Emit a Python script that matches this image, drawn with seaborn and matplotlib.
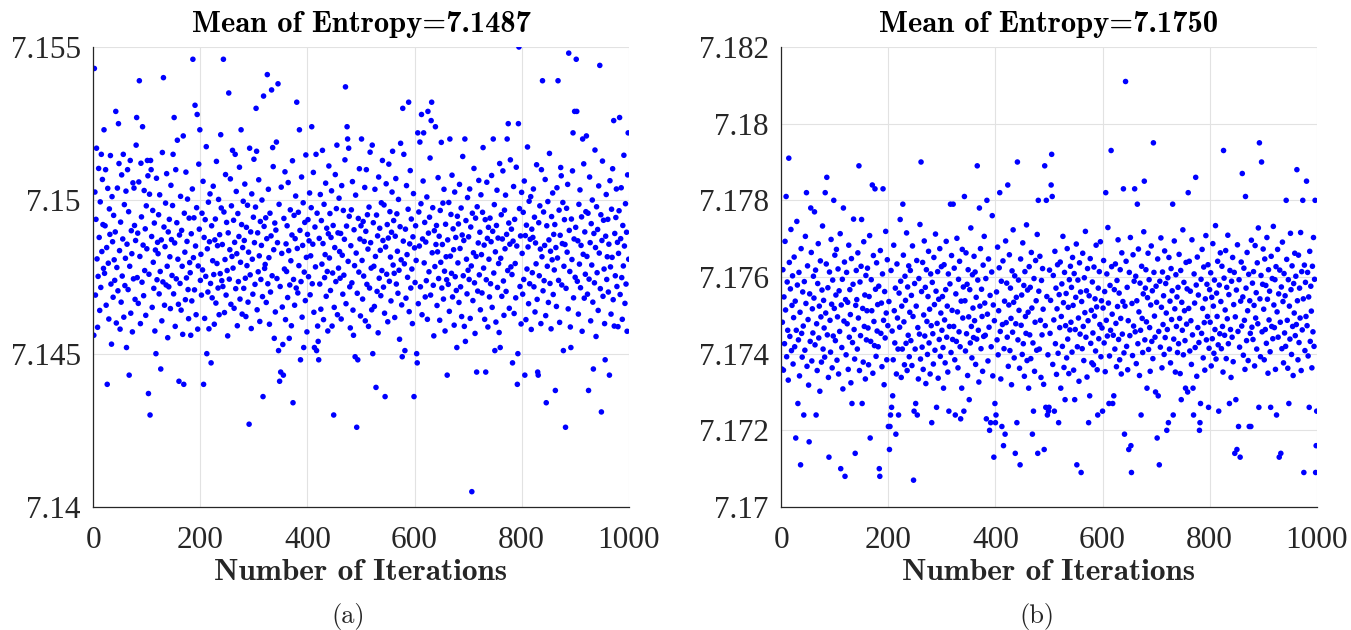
import numpy as np
import pandas as pd
import matplotlib
matplotlib.use("Agg")
import matplotlib.pyplot as plt
import seaborn as sns

# Entropy of each run, iterations 1..1000 (rows of 20 iterations)
left_entropy = [
    7.1456, 7.1543, 7.15027, 7.14691, 7.14938, 7.1517, 7.14809, 7.14586, 7.14752, 7.15104, 7.14879, 7.14641, 7.14995, 7.14716, 7.1515, 7.14833, 7.15068, 7.14921, 7.14778, 7.1523,
    7.14762, 7.14917, 7.1510, 7.14658, 7.14846, 7.1440, 7.15039, 7.14795, 7.14613, 7.14972, 7.14889, 7.15146, 7.14727, 7.14531, 7.15012, 7.14865, 7.14684, 7.14951, 7.14806, 7.14739,
    7.14897, 7.1529, 7.1460, 7.14781, 7.1504, 7.14705, 7.1525, 7.1512, 7.14836, 7.1458, 7.14929, 7.14668, 7.15083, 7.14753, 7.14874, 7.1515, 7.14619, 7.14986, 7.14722, 7.14811,
    7.1503, 7.1452, 7.14857, 7.1510, 7.14709, 7.14963, 7.1443, 7.14785, 7.1513, 7.14632, 7.14901, 7.14826, 7.14571, 7.15057, 7.14744, 7.1504, 7.14918, 7.14677, 7.14869, 7.1518,
    7.1527, 7.14748, 7.14893, 7.14664, 7.1506, 7.1539, 7.14817, 7.14598, 7.15121, 7.14946, 7.14733, 7.1524, 7.14854, 7.14689, 7.15032, 7.14771, 7.14907, 7.14625, 7.14982, 7.14842,
    7.1513, 7.1508, 7.1437, 7.14759, 7.1502, 7.1430, 7.1513, 7.1510, 7.14882, 7.14651, 7.14967, 7.14798, 7.14713, 7.14926, 7.14574, 7.14838, 7.1450, 7.15072, 7.14741, 7.14863,
    7.14826, 7.14953, 7.14695, 7.15018, 7.14768, 7.1445, 7.14871, 7.14607, 7.15156, 7.14734, 7.1540, 7.14913, 7.14658, 7.14849, 7.14991, 7.14724, 7.15087, 7.14785, 7.14552, 7.14897,
    7.14718, 7.14938, 7.14816, 7.14647, 7.15049, 7.14872, 7.14755, 7.14983, 7.1515, 7.14695, 7.1527, 7.14861, 7.14589, 7.1510, 7.14744, 7.14927, 7.15196, 7.14808, 7.14661, 7.1441,
    7.14887, 7.14729, 7.15013, 7.14642, 7.14902, 7.14785, 7.14563, 7.1521, 7.1440, 7.14958, 7.14831, 7.14676, 7.15092, 7.14747, 7.14866, 7.15004, 7.14709, 7.14614, 7.14942, 7.14797,
    7.14764, 7.1456, 7.14891, 7.14672, 7.15037, 7.1546, 7.14813, 7.14943, 7.14708, 7.1531, 7.14851, 7.14627, 7.14976, 7.1528, 7.1458, 7.14786, 7.15118, 7.14906, 7.1523, 7.14739,
    7.14824, 7.14691, 7.14958, 7.14773, 7.15062, 7.1440, 7.14879, 7.14615, 7.14937, 7.14752, 7.15175, 7.1450, 7.14842, 7.14701, 7.14994, 7.14581, 7.14865, 7.15021, 7.14729, 7.1447,
    7.14917, 7.14682, 7.14803, 7.15046, 7.14758, 7.14596, 7.14871, 7.14939, 7.14665, 7.15127, 7.14794, 7.14852, 7.14714, 7.15003, 7.14627, 7.14888, 7.14761, 7.15214, 7.14975, 7.14738,
    7.14856, 7.14719, 7.1546, 7.14962, 7.14634, 7.14807, 7.15084, 7.14691, 7.14928, 7.14771, 7.14558, 7.14894, 7.1535, 7.14743, 7.14839, 7.1507, 7.14661, 7.14982, 7.14817, 7.15163,
    7.14779, 7.14935, 7.14648, 7.14863, 7.1515, 7.14712, 7.15029, 7.14826, 7.14591, 7.14957, 7.14735, 7.14882, 7.15108, 7.14678, 7.14798, 7.1523, 7.14921, 7.14629, 7.14846, 7.14997,
    7.14713, 7.14869, 7.15053, 7.14746, 7.14621, 7.14912, 7.14787, 7.14984, 7.14668, 7.14831, 7.1427, 7.1517, 7.14757, 7.14897, 7.14582, 7.15021, 7.14808, 7.14694, 7.14945, 7.15134,
    7.14862, 7.14726, 7.14978, 7.1530, 7.1516, 7.14643, 7.14894, 7.14767, 7.15067, 7.14819, 7.14605, 7.14931, 7.14742, 7.14853, 7.15001, 7.14686, 7.1436, 7.1534, 7.14915, 7.14778,
    7.14791, 7.14943, 7.14667, 7.14875, 7.1541, 7.14728, 7.15036, 7.14813, 7.14596, 7.14958, 7.14701, 7.14884, 7.1536, 7.14754, 7.15172, 7.1511, 7.14839, 7.1455, 7.14926, 7.14636,
    7.14903, 7.1519, 7.14745, 7.14862, 7.1538, 7.1451, 7.14987, 7.1441, 7.14719, 7.1444, 7.15043, 7.14827, 7.14652, 7.1453, 7.1443, 7.14941, 7.14776, 7.15093, 7.14611, 7.14858,
    7.14768, 7.14917, 7.14683, 7.15058, 7.14836, 7.1455, 7.14724, 7.14969, 7.14803, 7.14591, 7.14887, 7.15129, 7.1434, 7.14742, 7.14951, 7.14658, 7.14875, 7.15014, 7.14714, 7.1532,
    7.14843, 7.14698, 7.14961, 7.14787, 7.1523, 7.14902, 7.1448, 7.14735, 7.15076, 7.14619, 7.14853, 7.14992, 7.1452, 7.14766, 7.14928, 7.14673, 7.15148, 7.14814, 7.14571, 7.14889,
    7.14937, 7.14751, 7.14868, 7.15024, 7.14692, 7.14819, 7.14976, 7.1524, 7.14728, 7.14857, 7.15091, 7.14635, 7.1452, 7.14913, 7.14783, 7.1515, 7.1451, 7.14958, 7.1459, 7.1454,
    7.1448, 7.14876, 7.14727, 7.15019, 7.14645, 7.14934, 7.14792, 7.15163, 7.14859, 7.14611, 7.14987, 7.14748, 7.14823, 7.15056, 7.14687, 7.14909, 7.14768, 7.14574, 7.14891, 7.15112,
    7.14812, 7.14957, 7.14706, 7.14879, 7.15031, 7.1459, 7.14763, 7.14918, 7.1430, 7.14651, 7.14846, 7.15084, 7.14735, 7.14973, 7.1518, 7.14627, 7.14894, 7.14779, 7.15007, 7.14833,
    7.14746, 7.14892, 7.14613, 7.15048, 7.14821, 7.14694, 7.14967, 7.14756, 7.14873, 7.15132, 7.1537, 7.14663, 7.14916, 7.1524, 7.1520, 7.14801, 7.1517, 7.14948, 7.14718, 7.14584,
    7.14852, 7.14969, 7.14731, 7.15061, 7.14642, 7.1456, 7.14904, 7.14787, 7.1449, 7.15017, 7.14828, 7.1426, 7.14697, 7.1448, 7.14941, 7.14766, 7.15103, 7.14874, 7.14623, 7.14917,
    7.1520, 7.14804, 7.14678, 7.14931, 7.14753, 7.14866, 7.15042, 7.14607, 7.14899, 7.1510, 7.14726, 7.14953, 7.14841, 7.14589, 7.14978, 7.14714, 7.15157, 7.14862, 7.14779, 7.14643,
    7.1518, 7.1450, 7.14927, 7.14785, 7.14654, 7.15036, 7.14817, 7.1439, 7.14952, 7.14703, 7.14884, 7.14568, 7.15076, 7.14746, 7.14909, 7.14837, 7.14689, 7.14992, 7.14771, 7.1513,
    7.14869, 7.14717, 7.14985, 7.14632, 7.1436, 7.14848, 7.15054, 7.14759, 7.14921, 7.14604, 7.14877, 7.15118, 7.14736, 7.14963, 7.14815, 7.14672, 7.14896, 7.15027, 7.1516, 7.14789,
    7.14934, 7.14762, 7.14618, 7.14883, 7.15071, 7.14727, 7.14956, 7.14834, 7.14697, 7.15003, 7.14772, 7.14547, 7.14914, 7.15186, 7.14806, 7.14659, 7.1449, 7.1530, 7.14867, 7.1515,
    7.14793, 7.1451, 7.14906, 7.14681, 7.15048, 7.14823, 7.14749, 7.14971, 7.1532, 7.14637, 7.14858, 7.15097, 7.14714, 7.14939, 7.14776, 7.14598, 7.14881, 7.15022, 7.1436, 7.14845,
    7.14732, 7.14917, 7.14804, 7.1450, 7.1447, 7.1522, 7.14663, 7.14962, 7.14851, 7.1519, 7.14718, 7.14989, 7.1528, 7.14627, 7.14874, 7.15063, 7.1522, 7.14796, 7.14928, 7.14685,
    7.14864, 7.14738, 7.15011, 7.14612, 7.1529, 7.14893, 7.14767, 7.14945, 7.15138, 7.14691, 7.1526, 7.1532, 7.14829, 7.14976, 7.14723, 7.14558, 7.14901, 7.14784, 7.1524, 7.14856,
    7.14918, 7.14657, 7.14832, 7.15074, 7.14745, 7.14883, 7.14609, 7.14967, 7.14798, 7.15189, 7.14714, 7.14856, 7.14991, 7.14678, 7.15036, 7.14769, 7.14574, 7.14922, 7.14816, 7.14741,
    7.1443, 7.14871, 7.14726, 7.14993, 7.14638, 7.1520, 7.14818, 7.14954, 7.14762, 7.15082, 7.14685, 7.14907, 7.14839, 7.14593, 7.15027, 7.14751, 7.14879, 7.14706, 7.1452, 7.14948,
    7.14796, 7.14923, 7.14667, 7.15052, 7.14843, 7.14718, 7.14975, 7.14621, 7.14887, 7.15143, 7.14754, 7.14869, 7.14589, 7.1520, 7.1454, 7.14934, 7.14808, 7.14695, 7.15009, 7.14772,
    7.14881, 7.14742, 7.15037, 7.14615, 7.14913, 7.14786, 7.1405, 7.14958, 7.14673, 7.14829, 7.15104, 7.14731, 7.14566, 7.14942, 7.14817, 7.1444, 7.14979, 7.14704, 7.14861, 7.15065,
    7.14757, 7.14896, 7.14643, 7.15018, 7.14823, 7.14698, 7.14961, 7.15172, 7.14779, 7.14854, 7.14612, 7.14937, 7.1444, 7.14741, 7.15059, 7.14876, 7.14587, 7.14912, 7.14808, 7.14685,
    7.14942, 7.14728, 7.14865, 7.15081, 7.14651, 7.14899, 7.1520, 7.14763, 7.14986, 7.1451, 7.14832, 7.14603, 7.14918, 7.15033, 7.14716, 7.14877, 7.14794, 7.14569, 7.1512, 7.1452,
    7.14811, 7.14953, 7.14687, 7.14874, 7.15096, 7.14737, 7.14625, 7.14968, 7.14842, 7.15017, 7.14703, 7.14889, 7.1520, 7.14771, 7.1525, 7.14926, 7.14648, 7.14857, 7.15132, 7.14783,
    7.14906, 7.14758, 7.1447, 7.14867, 7.15045, 7.14631, 7.14938, 7.14794, 7.14682, 7.15108, 7.14851, 7.1440, 7.1450, 7.1525, 7.1550, 7.14973, 7.14719, 7.14884, 7.14597, 7.15026,
    7.14827, 7.14694, 7.14961, 7.14742, 7.15063, 7.1443, 7.14885, 7.14611, 7.14919, 7.14776, 7.15174, 7.14848, 7.14663, 7.14997, 7.14728, 7.14873, 7.15012, 7.14579, 7.14906, 7.14764,
    7.14879, 7.15037, 7.14718, 7.14945, 7.14636, 7.14861, 7.14793, 7.15116, 7.14677, 7.1444, 7.1443, 7.14927, 7.14754, 7.14982, 7.14841, 7.14598, 7.1510, 7.14816, 7.1539, 7.14705,
    7.14962, 7.14738, 7.14853, 7.15068, 7.14624, 7.1434, 7.14917, 7.14785, 7.14996, 7.14667, 7.14871, 7.15153, 7.14729, 7.14834, 7.14581, 7.14947, 7.14806, 7.15024, 7.14693, 7.14889,
    7.14773, 7.14921, 7.1438, 7.14846, 7.14654, 7.15041, 7.14812, 7.1539, 7.14739, 7.14968, 7.14602, 7.14886, 7.15107, 7.1508, 7.14724, 7.14859, 7.14993, 7.1451, 7.14785, 7.14937,
    7.14856, 7.1426, 7.14713, 7.14974, 7.14831, 7.15052, 7.14646, 7.1548, 7.14902, 7.14768, 7.14587, 7.1452, 7.14939, 7.14807, 7.15096, 7.1522, 7.14682, 7.14874, 7.1529, 7.14749,
    7.14912, 7.1546, 7.1529, 7.14736, 7.14868, 7.14629, 7.14987, 7.14792, 7.15034, 7.14715, 7.14853, 7.14946, 7.14573, 7.1520, 7.14824, 7.15119, 7.14681, 7.14897, 7.14759, 7.14963,
    7.1521, 7.14817, 7.14694, 7.14958, 7.1438, 7.14743, 7.15076, 7.14862, 7.14607, 7.14924, 7.14789, 7.15001, 7.14668, 7.1445, 7.14892, 7.14731, 7.15164, 7.14846, 7.14556, 7.14979,
    7.14764, 7.14905, 7.14641, 7.15047, 7.14828, 7.1544, 7.14712, 7.14953, 7.1431, 7.14869, 7.15128, 7.14687, 7.14935, 7.14776, 7.14598, 7.1448, 7.14883, 7.15019, 7.14742, 7.14816,
    7.14938, 7.14701, 7.14857, 7.1443, 7.15064, 7.14783, 7.14629, 7.14971, 7.14814, 7.15103, 7.14676, 7.1526, 7.1459, 7.14892, 7.14754, 7.14944, 7.15037, 7.14719, 7.14863, 7.14588,
    7.14827, 7.14966, 7.1527, 7.14693, 7.14875, 7.15041, 7.14748, 7.14612, 7.14918, 7.14786, 7.15147, 7.14851, 7.14664, 7.14989, 7.14727, 7.14896, 7.14573, 7.15083, 7.1522, 7.14808,
]

right_entropy = [
    7.1736, 7.17482, 7.17619, 7.17357, 7.17548, 7.17426, 7.17693, 7.17514, 7.1781, 7.17392, 7.17587, 7.17461, 7.17331, 7.1791, 7.17638, 7.17445, 7.17569, 7.17724, 7.17408, 7.17526,
    7.17603, 7.17373, 7.17494, 7.17652, 7.17418, 7.17537, 7.1718, 7.17461, 7.17745, 7.17579, 7.1727, 7.17436, 7.17612, 7.17342, 7.17508, 7.1711, 7.17674, 7.17453, 7.17391, 7.17561,
    7.17472, 7.1724, 7.17588, 7.17409, 7.17706, 7.17531, 7.1782, 7.17367, 7.17629, 7.17489, 7.17318, 7.1717, 7.17556, 7.17432, 7.1778, 7.17664, 7.17381, 7.17517, 7.17454, 7.17602,
    7.17545, 7.1777, 7.17423, 7.17618, 7.1724, 7.17478, 7.17356, 7.17583, 7.17687, 7.17441, 7.17524, 7.17302, 7.17642, 7.17496, 7.17378, 7.17566, 7.17733, 7.17412, 7.17539, 7.17467,
    7.17391, 7.1782, 7.17506, 7.17634, 7.1786, 7.17449, 7.17572, 7.17338, 7.1713, 7.17613, 7.17487, 7.17404, 7.17698, 7.17529, 7.17363, 7.17592, 7.17446, 7.1780, 7.17518, 7.17657,
    7.17434, 7.17553, 7.17672, 7.17383, 7.17496, 7.17621, 7.17347, 7.17564, 7.17458, 7.17713, 7.1710, 7.17527, 7.17416, 7.17594, 7.17308, 7.1778, 7.17485, 7.17639, 7.1708, 7.17541,
    7.17397, 7.17612, 7.17478, 7.17534, 7.17359, 7.17683, 7.17443, 7.17567, 7.17502, 7.17324, 7.17648, 7.1727, 7.17429, 7.17581, 7.17751, 7.17463, 7.17386, 7.1714, 7.17526, 7.17617,
    7.17541, 7.17412, 7.17663, 7.17493, 7.1789, 7.17356, 7.17587, 7.17447, 7.17628, 7.1775, 7.1727, 7.17518, 7.17378, 7.17692, 7.17471, 7.17553, 7.17334, 7.17604, 7.17436, 7.17512,
    7.17623, 7.17467, 7.17371, 7.17549, 7.17708, 7.1718, 7.17432, 7.17593, 7.17512, 7.1784, 7.17349, 7.17656, 7.17484, 7.17421, 7.1783, 7.17568, 7.17393, 7.17637, 7.17459, 7.17528,
    7.17418, 7.17576, 7.1710, 7.1708, 7.17669, 7.17453, 7.17532, 7.17366, 7.17608, 7.1783, 7.17487, 7.17319, 7.17562, 7.17441, 7.17719, 7.17506, 7.17384, 7.17645, 7.17473, 7.1721,
    7.17536, 7.1715, 7.1721, 7.1724, 7.17617, 7.1726, 7.17459, 7.1729, 7.17384, 7.17683, 7.17512, 7.17428, 7.17571, 7.1719, 7.17347, 7.17634, 7.17493, 7.17412, 7.1724, 7.17558,
    7.17469, 7.1775, 7.17589, 7.17338, 7.17524, 7.17412, 7.1779, 7.17657, 7.17483, 7.17371, 7.17602, 7.17539, 7.17427, 7.17715, 7.17356, 7.17574, 7.17448, 7.17629, 7.17392, 7.17508,
    7.17617, 7.17434, 7.17552, 7.17369, 7.17681, 7.17497, 7.1707, 7.1725, 7.17583, 7.17412, 7.1727, 7.17524, 7.17643, 7.1724, 7.17468, 7.17334, 7.17596, 7.17451, 7.17737, 7.17386,
    7.1790, 7.17562, 7.17417, 7.17638, 7.17359, 7.17501, 7.17694, 7.17446, 7.17573, 7.17322, 7.17619, 7.17484, 7.17398, 7.17549, 7.17667, 7.17428, 7.17516, 7.17347, 7.17608, 7.17473,
    7.1722, 7.17586, 7.17452, 7.17373, 7.17651, 7.17528, 7.17409, 7.17712, 7.17563, 7.1726, 7.17479, 7.17614, 7.17336, 7.17542, 7.17437, 7.17674, 7.17393, 7.17506, 7.17627, 7.17461,
    7.17549, 7.17416, 7.1731, 7.17632, 7.17488, 7.17376, 7.17567, 7.17693, 7.17443, 7.17524, 7.17352, 7.17608, 7.1725, 7.17471, 7.17582, 7.1779, 7.17403, 7.17656, 7.17513, 7.17437,
    7.1779, 7.17471, 7.17623, 7.17384, 7.1724, 7.17556, 7.17432, 7.17701, 7.17509, 7.17363, 7.17594, 7.17457, 7.17641, 7.17418, 7.1723, 7.17537, 7.1731, 7.17672, 7.17493, 7.17574,
    7.1725, 7.1781, 7.17538, 7.17407, 7.17663, 7.17452, 7.17581, 7.17343, 7.17619, 7.17496, 7.1728, 7.17567, 7.17428, 7.17728, 7.17471, 7.17389, 7.17606, 7.17519, 7.17442, 7.17654,
    7.17486, 7.17613, 7.17372, 7.17547, 7.17438, 7.1789, 7.17592, 7.17461, 7.17326, 7.1778, 7.17524, 7.17674, 7.17413, 7.17568, 7.17497, 7.17354, 7.17631, 7.17445, 7.17706, 7.17532,
    7.17448, 7.17596, 7.1723, 7.1780, 7.17503, 7.17381, 7.17647, 7.17469, 7.1720, 7.17552, 7.1722, 7.17418, 7.17613, 7.1776, 7.17342, 7.17527, 7.1713, 7.17486, 7.1727, 7.1722,
    7.1724, 7.17561, 7.17436, 7.17678, 7.17397, 7.17512, 7.17624, 7.1782, 7.17458, 7.17334, 7.17589, 7.1721, 7.17476, 7.17642, 7.1716, 7.17413, 7.17537, 7.1719, 7.17694, 7.17481,
    7.17584, 7.17443, 7.1784, 7.17367, 7.17527, 7.17658, 7.17408, 7.17571, 7.17492, 7.17319, 7.17616, 7.17456, 7.17723, 7.17534, 7.17389, 7.17603, 7.1714, 7.17478, 7.17547, 7.1722,
    7.1790, 7.17436, 7.17592, 7.17513, 7.17362, 7.1711, 7.17647, 7.17474, 7.17553, 7.17398, 7.17689, 7.17426, 7.17578, 7.17341, 7.17614, 7.17497, 7.17453, 7.17736, 7.17382, 7.17566,
    7.17508, 7.1731, 7.17627, 7.17449, 7.17573, 7.17387, 7.17664, 7.17519, 7.1719, 7.17428, 7.1725, 7.17596, 7.17354, 7.17482, 7.17643, 7.17538, 7.17409, 7.17711, 7.1714, 7.1780,
    7.17563, 7.17412, 7.17654, 7.17487, 7.17338, 7.17591, 7.17449, 7.17622, 7.17516, 7.1732, 7.1715, 7.1789, 7.17473, 7.1726, 7.1780, 7.17549, 7.1724, 7.17397, 7.1725, 7.1726,
    7.17618, 7.17453, 7.17539, 7.1784, 7.1792, 7.1781, 7.17372, 7.17604, 7.17488, 7.1725, 7.17667, 7.17426, 7.17571, 7.17346, 7.17517, 7.17632, 7.17401, 7.1722, 7.17554, 7.17468,
    7.17639, 7.1731, 7.17497, 7.17582, 7.17419, 7.17706, 7.17533, 7.17364, 7.17612, 7.1728, 7.17473, 7.17557, 7.17389, 7.17674, 7.17438, 7.17521, 7.17348, 7.17593, 7.17462, 7.17628,
    7.17482, 7.17573, 7.17404, 7.17651, 7.17526, 7.17357, 7.17609, 7.1728, 7.17463, 7.17547, 7.17686, 7.1711, 7.17418, 7.17592, 7.17493, 7.17328, 7.17637, 7.17451, 7.17561, 7.1709,
    7.17536, 7.17413, 7.17662, 7.17471, 7.17382, 7.17598, 7.17507, 7.17719, 7.17443, 7.17564, 7.17339, 7.17622, 7.17486, 7.1722, 7.17551, 7.1729, 7.17648, 7.17427, 7.17513, 7.17376,
    7.17587, 7.17454, 7.17371, 7.17626, 7.17498, 7.17543, 7.17407, 7.17683, 7.17522, 7.17358, 7.1724, 7.17571, 7.17439, 7.17614, 7.17476, 7.17692, 7.17392, 7.17538, 7.17467, 7.1725,
    7.17519, 7.17643, 7.17428, 7.17562, 7.17353, 7.1782, 7.17487, 7.17608, 7.17446, 7.17729, 7.17532, 7.1727, 7.17394, 7.17578, 7.17461, 7.1793, 7.17627, 7.17503, 7.1727, 7.17448,
    7.1729, 7.17567, 7.17412, 7.17634, 7.17479, 7.17366, 7.17591, 7.17523, 7.17697, 7.17437, 7.17558, 7.17384, 7.17619, 7.17492, 7.17347, 7.17663, 7.17451, 7.17536, 7.1783, 7.17402,
    7.1719, 7.17524, 7.1811, 7.17641, 7.17419, 7.17573, 7.17358, 7.17486, 7.1715, 7.17612, 7.17447, 7.17703, 7.1716, 7.1709, 7.17531, 7.17395, 7.17658, 7.17472, 7.17589, 7.1783,
    7.17457, 7.17602, 7.17374, 7.17538, 7.1779, 7.17426, 7.17673, 7.17509, 7.17343, 7.17584, 7.17461, 7.1724, 7.17628, 7.17492, 7.17403, 7.17556, 7.17718, 7.1785, 7.17436, 7.17571,
    7.17619, 7.17483, 7.1731, 7.17546, 7.17662, 7.17411, 7.17593, 7.17468, 7.17354, 7.17527, 7.17681, 7.17432, 7.17564, 7.17387, 7.1795, 7.17612, 7.17498, 7.17443, 7.1730, 7.17576,
    7.17534, 7.1718, 7.17647, 7.1729, 7.17458, 7.1711, 7.17589, 7.17417, 7.17702, 7.17521, 7.17363, 7.17613, 7.17476, 7.17551, 7.17398, 7.17668, 7.17442, 7.17583, 7.17506, 7.1720,
    7.17463, 7.17598, 7.1722, 7.17651, 7.17412, 7.17537, 7.17376, 7.17622, 7.17489, 7.17564, 7.1779, 7.1724, 7.17438, 7.17694, 7.17517, 7.17352, 7.17606, 7.17471, 7.17548, 7.17403,
    7.17573, 7.17426, 7.17659, 7.17492, 7.17348, 7.17617, 7.1728, 7.17534, 7.17461, 7.17723, 7.17397, 7.17586, 7.17512, 7.17434, 7.1731, 7.17638, 7.17477, 7.17569, 7.1730, 7.1782,
    7.17518, 7.17641, 7.17407, 7.17563, 7.17486, 7.17372, 7.17697, 7.17449, 7.1731, 7.1724, 7.17608, 7.17532, 7.17416, 7.1786, 7.17579, 7.17341, 7.17652, 7.17468, 7.17553, 7.17429,
    7.1720, 7.1722, 7.1727, 7.17594, 7.17453, 7.17672, 7.17518, 7.17389, 7.17626, 7.17481, 7.17357, 7.17543, 7.17708, 7.17436, 7.17581, 7.17497, 7.17632, 7.1726, 7.17414, 7.17567,
    7.17482, 7.17611, 7.17368, 7.17547, 7.17439, 7.17687, 7.17524, 7.17401, 7.17592, 7.17463, 7.17734, 7.17386, 7.17558, 7.17497, 7.17641, 7.17423, 7.1725, 7.17579, 7.17452, 7.17663,
    7.17536, 7.17413, 7.17628, 7.17471, 7.17352, 7.1793, 7.17597, 7.17448, 7.17514, 7.17669, 7.17387, 7.17573, 7.17491, 7.17709, 7.17426, 7.17554, 7.1727, 7.17617, 7.17463, 7.17338,
    7.17589, 7.17443, 7.17651, 7.17379, 7.17528, 7.17612, 7.1714, 7.17496, 7.1728, 7.17566, 7.1715, 7.17684, 7.17458, 7.1721, 7.17593, 7.17417, 7.1713, 7.17537, 7.17639, 7.17472,
    7.1787, 7.17548, 7.17396, 7.17623, 7.17487, 7.17359, 7.1781, 7.17571, 7.17434, 7.17664, 7.17512, 7.17382, 7.17607, 7.1721, 7.17538, 7.17453, 7.1721, 7.17696, 7.17469, 7.17584,
    7.17437, 7.17614, 7.17526, 7.17368, 7.17682, 7.17493, 7.17559, 7.17412, 7.17637, 7.17478, 7.17728, 7.1726, 7.1795, 7.17543, 7.17392, 7.17604, 7.1790, 7.17457, 7.17581, 7.17673,
    7.17516, 7.17384, 7.17647, 7.17463, 7.17578, 7.17427, 7.17703, 7.17542, 7.17349, 7.17619, 7.17488, 7.17563, 7.17405, 7.1726, 7.17654, 7.17471, 7.17596, 7.17439, 7.17732, 7.17527,
    7.17468, 7.17593, 7.17359, 7.17627, 7.1724, 7.17509, 7.17672, 7.17443, 7.17556, 7.1713, 7.17618, 7.17482, 7.1714, 7.17574, 7.17413, 7.17691, 7.17536, 7.17376, 7.17609, 7.17454,
    7.17551, 7.17419, 7.1780, 7.17646, 7.17487, 7.17362, 7.17593, 7.1727, 7.17524, 7.17438, 7.17714, 7.17567, 7.17398, 7.17629, 7.17471, 7.17343, 7.17583, 7.17506, 7.17662, 7.17447,
    7.17602, 7.17476, 7.1788, 7.17538, 7.17384, 7.17657, 7.17429, 7.17571, 7.17493, 7.17716, 7.17356, 7.17614, 7.17462, 7.1780, 7.17543, 7.1709, 7.17631, 7.17408, 7.17586, 7.17497,
    7.1785, 7.17473, 7.17612, 7.17394, 7.17548, 7.1726, 7.17667, 7.17432, 7.17576, 7.17511, 7.17363, 7.17628, 7.17457, 7.17703, 7.17419, 7.17594, 7.1780, 7.1709, 7.1716, 7.1725,
]

panel_titles = ["Mean of Entropy=7.1487", "Mean of Entropy=7.1750"]
panel_captions = ["(a)", "(b)"]
x_label = "Number of Iterations"
x_ticks = [0, 200, 400, 600, 800, 1000]
left_y_ticks = [7.14, 7.145, 7.15, 7.155]
right_y_ticks = [7.17, 7.172, 7.174, 7.176, 7.178, 7.18, 7.182]

sns.set_style("white")
plt.rcParams["font.family"] = ["Liberation Serif", "DejaVu Serif"]

W, H = 1351, 630
fig = plt.figure(figsize=(W / 100, H / 100), dpi=100)


def axes_px(left, top, width, height):
    return fig.add_axes([left / W, 1 - (top + height) / H, width / W, height / H])


ax_a = axes_px(93.3, 47, 535.4, 460)
ax_b = axes_px(781.3, 47, 535.4, 460)

panels = [
    (ax_a, left_entropy, panel_titles[0], left_y_ticks, panel_captions[0], 348),
    (ax_b, right_entropy, panel_titles[1], right_y_ticks, panel_captions[1], 1037),
]

bold_cm = ["cmb10", "DejaVu Serif"]
roman_cm = ["cmr10", "DejaVu Serif"]
axis_gray = "#262626"

for ax, values, title, y_ticks, caption, caption_x in panels:
    df = pd.DataFrame({"iteration": np.arange(1, len(values) + 1), "entropy": values})
    sns.scatterplot(data=df, x="iteration", y="entropy", ax=ax,
                    color="#0000ff", s=16, linewidth=0, edgecolor="none")
    ax.set_xlim(x_ticks[0], x_ticks[-1])
    ax.set_ylim(y_ticks[0], y_ticks[-1])
    ax.set_xticks(x_ticks)
    ax.set_xticklabels([str(t) for t in x_ticks])
    ax.set_yticks(y_ticks)
    ax.set_yticklabels([f"{t:g}" for t in y_ticks])

    ax.grid(True, color="#e2e2e2", linewidth=0.8)
    ax.set_axisbelow(True)
    for side in ("top", "right"):
        ax.spines[side].set_visible(False)
    for side in ("left", "bottom"):
        ax.spines[side].set_color(axis_gray)
        ax.spines[side].set_linewidth(0.9)

    ax.tick_params(direction="in", length=4, width=0.9, color=axis_gray,
                   labelcolor=axis_gray, labelsize=22.5)
    ax.tick_params(axis="x", pad=14)
    ax.tick_params(axis="y", pad=9)

    ax.set_title(title, fontfamily=bold_cm, fontsize=22, pad=11, color="black")
    ax.set_xlabel(x_label, fontfamily=bold_cm, fontsize=22.5, color=axis_gray)
    ax.xaxis.set_label_coords(0.5, -73 / 460)
    ax.xaxis.label.set_va("baseline")
    ax.set_ylabel("")

    fig.text(caption_x / W, 1 - 623 / H, caption, fontfamily=roman_cm,
             fontsize=19, ha="center", va="baseline", color=axis_gray)

fig.savefig("out.png", dpi=100)
